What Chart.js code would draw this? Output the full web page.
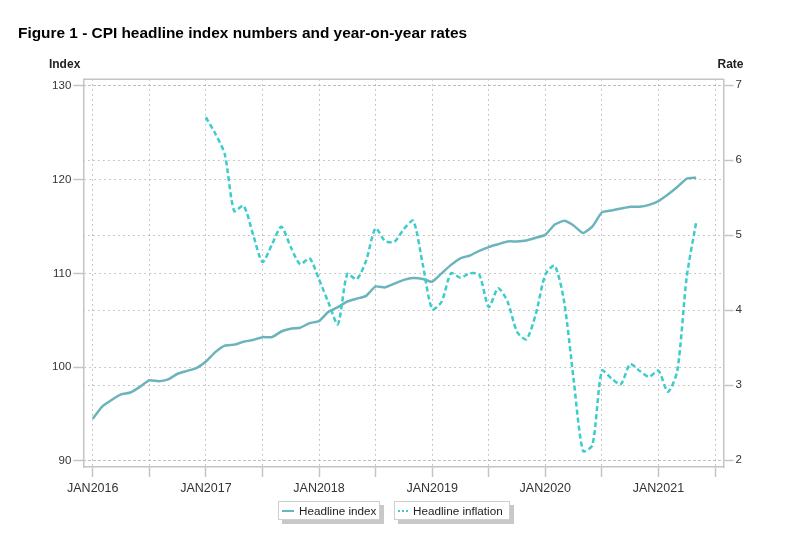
<!DOCTYPE html>
<html>
<head>
<meta charset="utf-8">
<script src="https://cdn.jsdelivr.net/npm/chart.js@4.4.0/dist/chart.umd.min.js"></script>
<style>
  body { margin: 0; background: #fff; font-family: Arial, "Liberation Sans", sans-serif; }
  #wrap { position: relative; width: 796px; height: 547px; }
  #title { position: absolute; left: 18px; top: 24px; font-size: 15.4px; line-height: 17px; font-weight: bold; color: #000; white-space: nowrap; }
  .leg { position: absolute; top: 501px; height: 17px; border: 1px solid #cfcfcf; background: #fff;
         box-shadow: 4px 4px 0 #c8c8c8; font-size: 11.7px; line-height: 17px; color: #222; white-space: nowrap; }
  .leg i { display: inline-block; width: 12px; height: 0; vertical-align: middle; margin: 0 5px 2px 3px; }
</style>
</head>
<body>
<div id="wrap">
  <canvas id="cpiChart" width="796" height="547"></canvas>
  <div id="title">Figure 1 - CPI headline index numbers and year-on-year rates</div>
  <div class="leg" style="left:278px;width:100px"><i style="border-top:2.5px solid #6cb4bc"></i>Headline index</div>
  <div class="leg" style="left:394px;width:114px"><i style="border-top:2.5px dotted #3ccccc;width:10px"></i>Headline inflation</div>
</div>
<script>
// monthly, JAN2016 .. MAY2021
const xTickLabels = ['JAN2016', 'JAN2017', 'JAN2018', 'JAN2019', 'JAN2020', 'JAN2021'];
const indexTicks = [90, 100, 110, 120, 130];
const rateTicks = [2, 3, 4, 5, 6, 7];

const headlineIndex = [
  94.5, 95.8, 96.5, 97.1, 97.3, 97.9, 98.6, 98.5, 98.7, 99.3, 99.6, 99.9,
  100.6, 101.6, 102.3, 102.4, 102.7, 102.9, 103.2, 103.2, 103.8, 104.1, 104.2, 104.7,
  104.9, 105.9, 106.4, 107.0, 107.3, 107.6, 108.6, 108.5, 108.9, 109.3, 109.5, 109.4,
  109.1, 110.0, 110.9, 111.6, 111.9, 112.4, 112.8, 113.1, 113.4, 113.4, 113.5, 113.8,
  114.1, 115.2, 115.6, 115.1, 114.3, 115.0, 116.5, 116.7, 116.9, 117.1, 117.1, 117.3,
  117.7, 118.4, 119.2, 120.1, 120.2
];

// starts JAN2017
const inflationStart = 12;
const headlineInflation = [
  6.57, 6.35, 6.08, 5.32, 5.39, 5.01, 4.64, 4.87, 5.11, 4.84, 4.61, 4.69,
  4.41, 4.10, 3.81, 4.48, 4.41, 4.66, 5.09, 4.92, 4.91, 5.08, 5.19, 4.61,
  4.01, 4.11, 4.49, 4.43, 4.49, 4.47, 4.04, 4.29, 4.11, 3.71, 3.61, 3.95,
  4.47, 4.59, 4.11, 3.08, 2.12, 2.20, 3.19, 3.09, 3.01, 3.28, 3.19, 3.11,
  3.19, 2.91, 3.19, 4.44, 5.17
];

const gridColor = '#a6a6a6';
const frameColor = '#c4c4c4';
const tickFont = { family: 'Arial', size: 11.5 };

const frame = {
  id: 'frame',
  afterDraw(chart) {
    const { ctx, chartArea: a } = chart;
    ctx.save();
    ctx.strokeStyle = frameColor;
    ctx.lineWidth = 1.5;
    ctx.beginPath();
    ctx.moveTo(a.left, a.top);
    ctx.lineTo(a.right, a.top);
    ctx.stroke();
    ctx.font = 'bold 12px Arial';
    ctx.fillStyle = '#222';
    ctx.textAlign = 'right';
    ctx.fillText('Index', a.left - 3, 68.3);
    ctx.textAlign = 'left';
    ctx.fillText('Rate', a.right - 6, 68.3);
    ctx.restore();
  }
};

const ctx = document.getElementById('cpiChart');
new Chart(ctx, {
  type: 'line',
  data: {
    datasets: [{
      label: 'Headline inflation',
      data: headlineInflation.map((v, i) => ({ x: i + inflationStart, y: v })),
      yAxisID: 'yRate',
      borderColor: '#3ccccc',
      borderWidth: 2.5,
      borderDash: [5, 3],
      pointRadius: 0,
      tension: 0.25
    }, {
      label: 'Headline index',
      data: headlineIndex.map((v, i) => ({ x: i, y: v })),
      yAxisID: 'yIndex',
      borderColor: '#6cb4bc',
      borderWidth: 2.5,
      pointRadius: 0,
      tension: 0.15
    }]
  },
  options: {
    responsive: false,
    animation: false,
    layout: { padding: { top: 79.3, left: 0, right: 0, bottom: 0 } },
    plugins: { legend: { display: false }, tooltip: { enabled: false } },
    scales: {
      x: {
        type: 'linear',
        min: -1,
        max: 66.9,
        afterBuildTicks: s => { s.ticks = xTickLabels.flatMap((_, k) => [{ value: k * 12 }, { value: k * 12 + 6 }]); },
        afterFit: s => { s.height = 80; },
        ticks: {
          autoSkip: false, maxRotation: 0, padding: 4, font: { family: 'Arial', size: 12.5 }, color: '#333',
          callback: v => (v % 12 === 0 ? xTickLabels[v / 12] : '')
        },
        grid: { color: gridColor, lineWidth: 1, tickLength: 10, tickColor: frameColor, tickWidth: 1.5 },
        border: { color: frameColor, width: 1.5, dash: [1.2, 3.8] }
      },
      yIndex: {
        position: 'left',
        min: 89.36,
        max: 130.68,
        afterBuildTicks: s => { s.ticks = indexTicks.map(v => ({ value: v })); },
        afterFit: s => { s.width = 83.3; },
        ticks: { padding: 2, font: tickFont, color: '#333' },
        grid: { color: gridColor, lineWidth: 1, tickLength: 10, tickColor: frameColor, tickWidth: 1.5 },
        border: { color: frameColor, width: 1.5, dash: [1.2, 3.8] }
      },
      yRate: {
        position: 'right',
        min: 1.907,
        max: 7.076,
        afterBuildTicks: s => { s.ticks = rateTicks.map(v => ({ value: v })); },
        afterFit: s => { s.width = 72.5; },
        ticks: { padding: 2, font: tickFont, color: '#333' },
        grid: { color: gridColor, lineWidth: 1, tickLength: 10, tickColor: frameColor, tickWidth: 1.5 },
        border: { color: frameColor, width: 1.5, dash: [1.2, 3.8] }
      }
    }
  },
  plugins: [frame]
});
</script>
</body>
</html>
